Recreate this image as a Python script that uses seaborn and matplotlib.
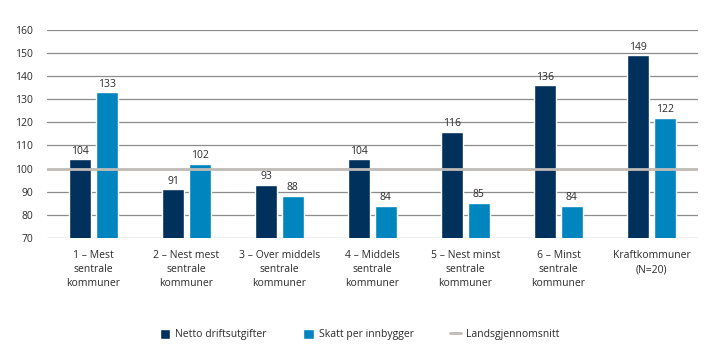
import pandas as pd
import matplotlib.pyplot as plt
import seaborn as sns
from matplotlib.patches import Patch
from matplotlib.lines import Line2D

# Data
categories = [
    "1 – Mest\nsentrale\nkommuner",
    "2 – Nest mest\nsentrale\nkommuner",
    "3 – Over middels\nsentrale\nkommuner",
    "4 – Middels\nsentrale\nkommuner",
    "5 – Nest minst\nsentrale\nkommuner",
    "6 – Minst\nsentrale\nkommuner",
    "Kraftkommuner\n(N=20)",
]
netto_drift = [104, 91, 93, 104, 116, 136, 149]
skatt = [133, 102, 88, 84, 85, 84, 122]
series_names = ["Netto driftsutgifter", "Skatt per innbygger"]
landsgjennomsnitt = 100

colors = ["#00315c", "#0085bf"]
avg_color = "#bfbbb7"
text_color = "#2b2b2b"

df = pd.DataFrame({
    "kategori": categories * 2,
    "serie": [series_names[0]] * len(categories) + [series_names[1]] * len(categories),
    "verdi": netto_drift + skatt,
})

sns.set_style("white")
plt.rcParams["font.family"] = ["Open Sans", "DejaVu Sans"]

fig, ax = plt.subplots(figsize=(7.19, 3.62), dpi=100)
fig.subplots_adjust(left=0.065, right=0.971, top=0.917, bottom=0.343)

# gridlines behind bars
for y in range(70, 161, 10):
    if y != landsgjennomsnitt:
        ax.axhline(y, color="#8c8c8c", linewidth=0.9, zorder=0)

sns.barplot(
    data=df, x="kategori", y="verdi", hue="serie",
    palette=colors, width=0.57, gap=0.17, ax=ax,
    legend=False, zorder=2, saturation=1,
)

ax.axhline(landsgjennomsnitt, color=avg_color, linewidth=2, zorder=3)

for container in ax.containers:
    ax.bar_label(container, fmt="%d", padding=2, fontsize=7.5, color=text_color)

ax.set_ylim(70, 160)
ax.set_yticks(range(70, 161, 10))
ax.set_xlabel("")
ax.set_ylabel("")
ax.tick_params(axis="both", length=0, labelsize=7.5, colors=text_color)
ax.tick_params(axis="y", pad=10)
ax.tick_params(axis="x", pad=9)
for lbl in ax.get_xticklabels():
    lbl.set_linespacing(1.35)
for s in ax.spines.values():
    s.set_visible(False)

handles = [
    Patch(facecolor=colors[0], label=series_names[0]),
    Patch(facecolor=colors[1], label=series_names[1]),
    Line2D([0], [0], color=avg_color, linewidth=2, label="Landsgjennomsnitt"),
]
fig.legend(
    handles=handles, loc="center", bbox_to_anchor=(0.5, 0.075), ncol=3,
    frameon=False, fontsize=7.5, handlelength=1.0, handleheight=1.0,
    columnspacing=3.5, handletextpad=0.5, labelcolor=text_color,
)

fig.savefig("out.png", dpi=100)
